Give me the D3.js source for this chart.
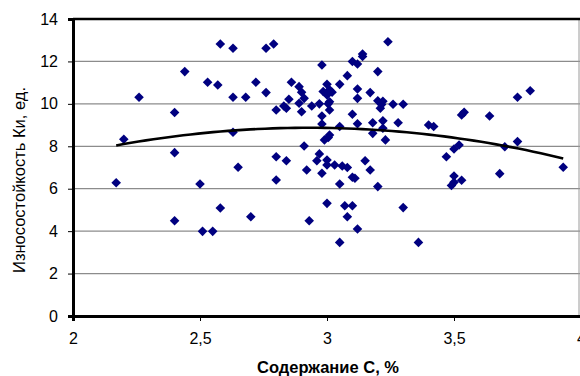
<!DOCTYPE html>
<html>
<head>
<meta charset="utf-8">
<script src="https://cdn.jsdelivr.net/npm/d3@7/dist/d3.min.js"></script>
<style>
  html, body { margin: 0; padding: 0; background: #fff; }
  svg { display: block; font-family: "Liberation Sans", Arial, sans-serif; }
</style>
</head>
<body>
<svg id="chart" width="580" height="376"></svg>
<script>
// Carbon content, %
const carbon = [
  2.17, 2.20, 2.26, 2.40, 2.44, 2.40, 2.40, 2.50, 2.51, 2.55,
  2.58, 2.53, 2.57, 2.58, 2.63, 2.63, 2.63, 2.65, 2.68, 2.70,
  2.72, 2.76, 2.79, 2.76, 2.80, 2.80, 2.80, 2.84, 2.83, 2.84,
  2.86, 2.85, 2.89, 2.90, 2.91, 2.89, 2.90, 2.94, 2.97, 2.98,
  3.00, 2.985, 3.01, 3.02, 3.00, 3.005, 3.01, 2.98, 3.01, 2.98,
  3.05, 3.08, 3.10, 3.12, 3.14, 3.14, 3.20, 3.24, 3.12, 3.12,
  3.17, 3.10, 3.12, 3.05, 3.18, 3.20, 3.22, 3.215, 3.21, 3.26,
  3.30, 3.22, 3.28, 3.18, 3.22, 3.23, 3.01, 3.005, 2.99, 2.91,
  2.97, 2.96, 3.00, 3.00, 3.03, 3.06, 3.08, 2.92, 2.98, 3.15,
  3.17, 3.10, 3.11, 3.05, 3.20, 3.00, 3.07, 3.10, 3.08, 2.93,
  3.12, 3.05, 3.30, 3.36, 3.40, 3.42, 3.53, 3.54, 3.64, 3.75,
  3.80, 3.70, 3.75, 3.93, 3.68, 3.47, 3.50, 3.52, 3.50, 3.53,
  3.49, 3.50
];
// Wear resistance Ki, units
const wear = [
  6.28, 8.33, 10.31, 9.59, 11.52, 7.70, 4.49, 6.22, 3.99, 3.99,
  5.09, 11.02, 10.89, 12.82, 12.62, 10.31, 8.66, 7.01, 10.31, 4.68,
  11.02, 12.62, 12.82, 10.53, 9.71, 7.51, 6.41, 7.32, 9.90, 9.79,
  11.02, 10.22, 10.81, 10.55, 10.26, 10.03, 9.63, 9.90, 10.00, 11.83,
  10.92, 10.58, 10.66, 10.55, 10.42, 10.00, 10.10, 9.43, 9.71, 9.05,
  10.92, 11.33, 12.00, 11.88, 12.35, 12.23, 11.52, 12.93, 10.70, 10.26,
  10.53, 9.51, 9.06, 8.93, 9.11, 10.15, 10.12, 9.97, 9.79, 9.98,
  9.98, 9.20, 9.11, 8.61, 8.85, 8.30, 8.53, 8.42, 8.30, 8.01,
  7.64, 7.32, 7.35, 7.12, 7.12, 7.07, 7.00, 6.88, 6.73, 7.32,
  6.88, 6.54, 6.49, 6.22, 6.10, 5.31, 5.20, 5.20, 4.68, 4.49,
  4.10, 3.47, 5.11, 3.47, 9.00, 8.93, 9.48, 9.60, 9.43, 10.31,
  10.62, 7.98, 8.22, 7.01, 6.71, 7.51, 7.87, 8.06, 6.60, 6.40,
  6.15, 6.30
];

const xTicks = [2, 2.5, 3, 3.5, 4];
const yTicks = [0, 2, 4, 6, 8, 10, 12, 14];
const xTitle = "Содержание С, %";
const yTitle = "Износостойкость Ки, ед.";

const svg = d3.select("#chart");
const x = d3.scaleLinear().domain([2, 4]).range([73, 581]);
const y = d3.scaleLinear().domain([0, 14]).range([316, 19]);

const fmt = v => String(v).replace(".", ",");

// horizontal gridlines
svg.append("g")
  .selectAll("line")
  .data(yTicks.filter(t => t > 0 && t < 14))
  .join("line")
  .attr("x1", x(2)).attr("x2", x(4))
  .attr("y1", d => y(d)).attr("y2", d => y(d))
  .attr("stroke", "#8c8c8c").attr("stroke-width", 1.2);

// right frame edge
svg.append("line")
  .attr("x1", 579).attr("x2", 579)
  .attr("y1", y(14)).attr("y2", y(0))
  .attr("stroke", "#9a9a9a").attr("stroke-width", 1);

// top frame edge
svg.append("line")
  .attr("x1", x(2)).attr("x2", x(4))
  .attr("y1", y(14)).attr("y2", y(14))
  .attr("stroke", "#000").attr("stroke-width", 2.5);

// axes
const xAxis = d3.axisBottom(x).tickValues(xTicks).tickSize(5).tickPadding(12).tickFormat(fmt);
const yAxis = d3.axisLeft(y).tickValues(yTicks).tickSize(5).tickPadding(10).tickFormat(fmt);

const gx = svg.append("g").attr("transform", `translate(0,${y(0)})`).call(xAxis);
const gy = svg.append("g").attr("transform", `translate(${x(2)},0)`).call(yAxis);

[gx, gy].forEach(g => {
  g.select(".domain").attr("stroke", "#000").attr("stroke-width", 3);
  g.selectAll(".tick line").attr("stroke", "#000").attr("stroke-width", 1);
  g.selectAll(".tick text")
    .attr("fill", "#000")
    .style("font-size", "16px")
    .style("font-family", "'Liberation Sans', Arial, sans-serif");
});

// quadratic least-squares trend
function polyFit2(xs, ys) {
  const n = xs.length;
  let s = [0, 0, 0, 0, 0], t = [0, 0, 0];
  for (let i = 0; i < n; i++) {
    const xi = xs[i], yi = ys[i];
    let p = 1;
    for (let k = 0; k < 5; k++) { s[k] += p; if (k < 3) t[k] += p * yi; p *= xi; }
  }
  const A = [
    [s[0], s[1], s[2], t[0]],
    [s[1], s[2], s[3], t[1]],
    [s[2], s[3], s[4], t[2]]
  ];
  for (let c = 0; c < 3; c++) {
    for (let r = c + 1; r < 3; r++) {
      const f = A[r][c] / A[c][c];
      for (let k = c; k < 4; k++) A[r][k] -= f * A[c][k];
    }
  }
  const coef = [0, 0, 0];
  for (let r = 2; r >= 0; r--) {
    let v = A[r][3];
    for (let k = r + 1; k < 3; k++) v -= A[r][k] * coef[k];
    coef[r] = v / A[r][r];
  }
  return coef;
}

const coef = polyFit2(carbon, wear);
const xMin = d3.min(carbon), xMax = d3.max(carbon);
const trend = d3.range(0, 61).map(i => {
  const xv = xMin + (xMax - xMin) * i / 60;
  return [xv, coef[0] + coef[1] * xv + coef[2] * xv * xv];
});

// data points: navy diamonds
const diamond = "M0,-4.8L4.8,0L0,4.8L-4.8,0Z";
svg.append("g")
  .selectAll("path")
  .data(carbon.map((c, i) => [c, wear[i]]))
  .join("path")
  .attr("d", diamond)
  .attr("transform", d => `translate(${x(d[0])},${y(d[1])})`)
  .attr("fill", "#000080");

svg.append("path")
  .datum(trend)
  .attr("fill", "none")
  .attr("stroke", "#000")
  .attr("stroke-width", 2.6)
  .attr("d", d3.line().x(d => x(d[0])).y(d => y(d[1])));

// axis titles
svg.append("text")
  .attr("x", 328).attr("y", 373)
  .attr("text-anchor", "middle")
  .style("font-size", "16.5px").style("font-weight", "bold")
  .text(xTitle);

svg.append("text")
  .attr("transform", "translate(25,180) rotate(-90)")
  .attr("text-anchor", "middle")
  .style("font-size", "16.5px")
  .text(yTitle);
</script>
</body>
</html>
